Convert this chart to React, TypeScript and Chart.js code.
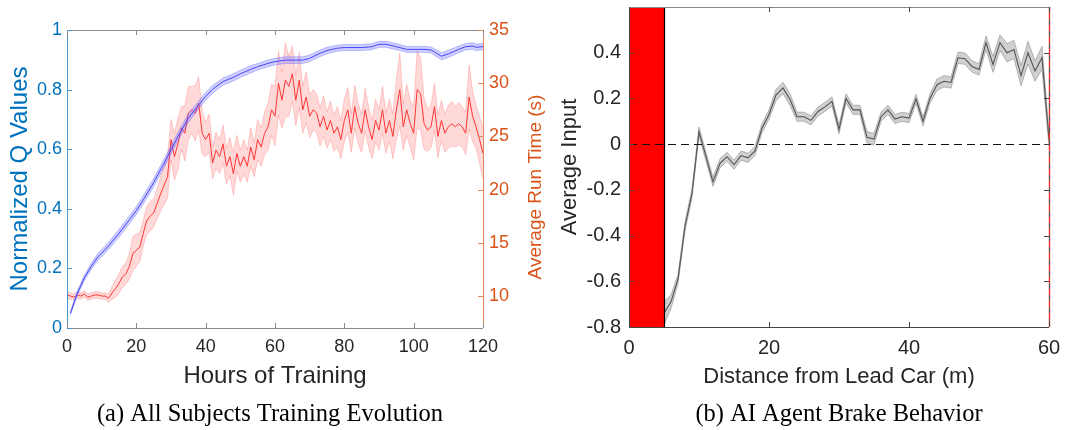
import React, { useEffect, useRef } from "react";
import { Chart, registerables } from "chart.js";

Chart.register(...registerables);
Chart.defaults.font.family = '"Liberation Sans", Arial, sans-serif';

// ---------------- Data: (a) training evolution ----------------
const hourTicks = [0, 20, 40, 60, 80, 100, 120];
const qTicks = [0, 0.2, 0.4, 0.6, 0.8, 1];
const runTimeTicks = [10, 15, 20, 25, 30, 35];

const qHours = [1, 3, 5, 7, 9, 10, 12, 15, 18, 20, 22, 25, 28, 30, 32, 35, 38, 40, 42, 45, 48, 50, 53, 55, 58, 60, 63, 65, 68, 70, 73, 75, 78, 80, 85, 88, 90, 92, 95, 98, 100, 103, 105, 108, 110, 113, 115, 117, 118, 120];
const qMean = [0.05, 0.117, 0.168, 0.207, 0.24, 0.251, 0.276, 0.318, 0.363, 0.394, 0.43, 0.488, 0.553, 0.598, 0.642, 0.704, 0.749, 0.777, 0.801, 0.827, 0.841, 0.853, 0.868, 0.877, 0.888, 0.894, 0.899, 0.899, 0.899, 0.905, 0.922, 0.931, 0.939, 0.941, 0.941, 0.944, 0.952, 0.952, 0.944, 0.935, 0.935, 0.935, 0.933, 0.912, 0.92, 0.935, 0.944, 0.946, 0.942, 0.944];
const qErr = [0.006, 0.008, 0.009, 0.01, 0.012, 0.012, 0.012, 0.013, 0.013, 0.013, 0.014, 0.014, 0.014, 0.014, 0.014, 0.014, 0.013, 0.013, 0.013, 0.012, 0.012, 0.012, 0.012, 0.011, 0.011, 0.011, 0.011, 0.011, 0.011, 0.011, 0.011, 0.011, 0.01, 0.01, 0.01, 0.01, 0.01, 0.01, 0.01, 0.01, 0.01, 0.01, 0.01, 0.012, 0.012, 0.011, 0.011, 0.011, 0.011, 0.011];

const runHours = Array.from({ length: 121 }, (_, i) => i);
const runTime = [
  10.1, 10.0, 9.9, 10.1, 10.0, 10.2, 9.9, 10.0, 10.1, 10.1,
  10.0, 10.0, 9.8, 10.3, 10.7, 11.2, 11.8, 12.1, 12.8, 14.0,
  14.3, 14.6, 15.9, 17.1, 17.5, 17.8, 18.7, 19.6, 20.4, 21.2,
  24.7, 23.1, 24.3, 25.8, 25.3, 27.2, 27.5, 27.2, 28.1, 25.3,
  24.7, 25.3, 22.5, 23.7, 23.1, 24.3, 22.2, 23.1, 21.5, 23.4,
  22.2, 23.1, 22.2, 24.0, 22.8, 24.7, 24.0, 25.3, 25.9, 27.5,
  26.9, 30.0, 28.4, 30.3, 29.7, 30.9, 28.4, 30.3, 27.5, 28.7,
  26.9, 27.5, 27.2, 25.9, 26.9, 25.6, 26.5, 25.3, 25.9, 24.7,
  26.5, 27.5, 25.3, 27.8, 26.2, 25.3, 27.5, 25.9, 24.7, 26.5,
  25.6, 27.5, 25.3, 26.5, 25.0, 27.5, 29.4, 25.9, 27.5, 26.2,
  25.3, 29.4, 29.0, 26.2, 25.6, 25.9, 27.8, 25.0, 26.5, 25.3,
  25.9, 26.2, 25.9, 26.2, 25.9, 25.3, 28.7, 26.9, 25.9, 24.7,
  23.4,
];
const runTimeErr = [
  0.3, 0.3, 0.3, 0.3, 0.3, 0.3, 0.3, 0.3, 0.3, 0.3, 0.3, 0.3,
  0.4, 0.6, 0.8, 0.9, 1.0, 1.0, 1.2, 1.6, 1.5,
  1.4, 1.2, 1.3, 1.4, 1.3, 1.4, 1.6, 1.8, 2.0, 1.9,
  2.2, 2.4, 2.0, 2.6, 2.5, 2.2, 2.6, 2.5, 2.0, 1.6,
  1.8, 1.5, 1.7, 1.6, 1.8, 1.7, 1.8, 2.0, 1.7, 1.5,
  1.6, 1.5, 1.8, 1.6, 1.9, 1.8, 2.0, 2.2, 2.4, 2.8,
  3.0, 2.6, 3.5, 2.8, 2.6, 2.4, 2.6, 2.2, 2.4, 2.0,
  1.9, 1.8, 1.8, 1.9, 1.7, 1.8, 1.7, 1.9, 1.8, 2.0,
  2.1, 1.8, 2.0, 1.9, 1.8, 2.0, 1.9, 1.8, 2.0, 1.9,
  2.2, 1.9, 2.0, 2.1, 2.8, 3.4, 2.2, 2.4, 2.2, 2.5,
  3.6, 3.4, 2.4, 2.0, 2.0, 2.2, 2.0, 1.9, 1.8, 2.0,
  2.1, 1.9, 2.0, 1.9, 2.0, 3.0, 2.4, 2.0, 2.2, 2.4,
];

// ---------------- Data: (b) brake behaviour ----------------
const distTicks = [0, 20, 40, 60];
const inputTicks = [-0.8, -0.6, -0.4, -0.2, 0, 0.2, 0.4];
const distance = [5, 6, 7, 8, 9, 10, 11, 12, 13, 14, 15, 16, 17, 18, 19, 20, 21, 22, 23, 24, 25, 26, 27, 28, 29, 30, 31, 32, 33, 34, 35, 36, 37, 38, 39, 40, 41, 42, 43, 44, 45, 46, 47, 48, 49, 50, 51, 52, 53, 54, 55, 56, 57, 58, 59, 60];
const brakeMean = [-0.74, -0.69, -0.59, -0.36, -0.215, 0.055, -0.055, -0.165, -0.084, -0.055, -0.09, -0.05, -0.06, -0.03, 0.07, 0.13, 0.215, 0.246, 0.195, 0.12, 0.12, 0.104, 0.143, 0.163, 0.187, 0.065, 0.2, 0.15, 0.15, 0.03, 0.022, 0.12, 0.15, 0.11, 0.12, 0.114, 0.198, 0.1, 0.2, 0.26, 0.275, 0.27, 0.378, 0.374, 0.34, 0.327, 0.444, 0.349, 0.444, 0.4, 0.414, 0.3, 0.4, 0.32, 0.378, 0.02];
const brakeErr = [0.05, 0.03, 0.02, 0.02, 0.02, 0.02, 0.02, 0.02, 0.02, 0.02, 0.02, 0.02, 0.02, 0.02, 0.02, 0.02, 0.025, 0.025, 0.025, 0.02, 0.02, 0.02, 0.02, 0.02, 0.02, 0.02, 0.02, 0.02, 0.02, 0.025, 0.025, 0.02, 0.02, 0.02, 0.02, 0.02, 0.02, 0.02, 0.02, 0.025, 0.025, 0.025, 0.025, 0.025, 0.025, 0.025, 0.03, 0.035, 0.035, 0.04, 0.04, 0.045, 0.05, 0.045, 0.05, 0.03];
const dangerZone = [0, 5];
const referenceInput = 0;

// ---------------- Styling ----------------
const H = 430;
const LEFT_W = 565;
const LEFT_PLOT_RIGHT = 483;
const RIGHT_X = 540;
const RIGHT_W = 525;
const TL = 5;
const SANS = '"Liberation Sans", Arial, sans-serif';
const SERIF = '"Liberation Serif", "Times New Roman", serif';
const MBLUE = "#0072BD";
const MORANGE = "#D95319";
const AXIS = "#262626";
const FRAME = "#8a8a8a";

const pts = (xs: number[], ys: number[]) => xs.map((x, i) => ({ x, y: ys[i] }));
const noPad = (s: any) => { s.paddingTop = 0; s.paddingBottom = 0; s.paddingLeft = 0; s.paddingRight = 0; };

function hline(ctx: CanvasRenderingContext2D, x1: number, y: number, x2: number, color: string, w = 1) {
  const yy = Math.round(y) + 0.5;
  ctx.strokeStyle = color;
  ctx.lineWidth = w;
  ctx.beginPath();
  ctx.moveTo(x1, yy);
  ctx.lineTo(x2, yy);
  ctx.stroke();
}
function vline(ctx: CanvasRenderingContext2D, x: number, y1: number, y2: number, color: string, w = 1) {
  const xx = Math.round(x) + 0.5;
  ctx.strokeStyle = color;
  ctx.lineWidth = w;
  ctx.beginPath();
  ctx.moveTo(xx, y1);
  ctx.lineTo(xx, y2);
  ctx.stroke();
}
function vtext(ctx: CanvasRenderingContext2D, text: string, baseX: number, cy: number, font: string, color: string) {
  ctx.save();
  ctx.translate(baseX, cy);
  ctx.rotate(-Math.PI / 2);
  ctx.font = font;
  ctx.fillStyle = color;
  ctx.textAlign = "center";
  ctx.textBaseline = "alphabetic";
  ctx.fillText(text, 0, 0);
  ctx.restore();
}
function htext(ctx: CanvasRenderingContext2D, text: string, cx: number, baseY: number, font: string, color: string) {
  ctx.save();
  ctx.font = font;
  ctx.fillStyle = color;
  ctx.textAlign = "center";
  ctx.textBaseline = "alphabetic";
  ctx.fillText(text, cx, baseY);
  ctx.restore();
}

const leftDeco = {
  id: "leftDeco",
  afterDraw(chart: any) {
    const { ctx, chartArea: a, scales } = chart;
    const x = scales.x, yq = scales.yQ, yr = scales.yR;
    ctx.save();
    hline(ctx, a.left, a.top, a.right, FRAME);
    hline(ctx, a.left, a.bottom, a.right, FRAME);
    vline(ctx, a.left, a.top, a.bottom, "#4a97d0");
    vline(ctx, a.right, a.top, a.bottom, "#e58a62");
    for (const v of hourTicks) {
      const px = x.getPixelForValue(v);
      vline(ctx, px, a.bottom - TL, a.bottom, FRAME);
      vline(ctx, px, a.top, a.top + TL, FRAME);
    }
    for (const v of qTicks) {
      const py = yq.getPixelForValue(v);
      hline(ctx, a.left, py, a.left + TL, "#4a97d0");
    }
    for (const v of runTimeTicks) {
      const py = yr.getPixelForValue(v);
      hline(ctx, a.right - TL, py, a.right, "#e58a62");
    }
    vtext(ctx, "Normalized Q Values", 27, (a.top + a.bottom) / 2, `24px ${SANS}`, MBLUE);
    vtext(ctx, "Average Run Time (s)", 541, 187, `19px ${SANS}`, MORANGE);
    htext(ctx, "Hours of Training", (a.left + a.right) / 2, 383, `24px ${SANS}`, AXIS);
    htext(ctx, "(a) All Subjects Training Evolution", 270, 421, `24.5px ${SERIF}`, "#000");
    ctx.restore();
  },
};

const rightDeco = {
  id: "rightDeco",
  beforeDatasetsDraw(chart: any) {
    const { ctx, chartArea: a, scales } = chart;
    const x = scales.x;
    const x0 = x.getPixelForValue(dangerZone[0]);
    const x1 = x.getPixelForValue(dangerZone[1]);
    ctx.save();
    ctx.fillStyle = "#ff0000";
    ctx.fillRect(x0, a.top, x1 - x0, a.bottom - a.top);
    ctx.restore();
  },
  afterDatasetsDraw(chart: any) {
    const { ctx, chartArea: a, scales } = chart;
    const x = scales.x, y = scales.y;
    ctx.save();
    const py = Math.round(y.getPixelForValue(referenceInput)) + 0.5;
    ctx.setLineDash([8, 5]);
    ctx.strokeStyle = "#111";
    ctx.lineWidth = 1;
    ctx.beginPath();
    ctx.moveTo(x.getPixelForValue(0), py);
    ctx.lineTo(x.getPixelForValue(60), py);
    ctx.stroke();
    ctx.setLineDash([]);
    vline(ctx, x.getPixelForValue(dangerZone[1]), a.top, a.bottom, "#000", 1.2);
    ctx.restore();
  },
  afterDraw(chart: any) {
    const { ctx, chartArea: a, scales } = chart;
    const x = scales.x, y = scales.y;
    ctx.save();
    hline(ctx, a.left, a.top, a.right, FRAME);
    hline(ctx, a.left, a.bottom, a.right, "#444");
    vline(ctx, a.left, a.top, a.bottom, "#444");
    vline(ctx, a.right, a.top, a.bottom, "#ff2a2a", 1.4);
    ctx.setLineDash([6, 6]);
    vline(ctx, a.right, a.top, a.bottom, "#555", 1);
    ctx.setLineDash([]);
    for (const v of distTicks) {
      const px = x.getPixelForValue(v);
      vline(ctx, px, a.bottom - TL, a.bottom, "#444");
      vline(ctx, px, a.top, a.top + TL, "#444");
    }
    for (const v of inputTicks) {
      const p = y.getPixelForValue(v);
      hline(ctx, a.left, p, a.left + TL, "#444");
      hline(ctx, a.right - TL, p, a.right, "#444");
    }
    vtext(ctx, "Average Input", 576 - RIGHT_X, (a.top + a.bottom) / 2, `22px ${SANS}`, AXIS);
    htext(ctx, "Distance from Lead Car (m)", (a.left + a.right) / 2, 383, `22px ${SANS}`, AXIS);
    htext(ctx, "(b) AI Agent Brake Behavior", 839 - RIGHT_X, 421, `24.5px ${SERIF}`, "#000");
    ctx.restore();
  },
};

function LeftChart() {
  const ref = useRef<HTMLCanvasElement>(null);
  useEffect(() => {
    const qLo = qMean.map((v, i) => v - qErr[i]);
    const qHi = qMean.map((v, i) => v + qErr[i]);
    const rLo = runTime.map((v, i) => v - runTimeErr[i]);
    const rHi = runTime.map((v, i) => v + runTimeErr[i]);
    const base = { pointRadius: 0, tension: 0 };
    const chart = new Chart(ref.current!, {
      type: "line",
      data: {
        datasets: [
          { ...base, data: pts(qHours, qLo), yAxisID: "yQ", borderColor: "rgba(90,90,255,0.45)", borderWidth: 0.8, fill: false },
          { ...base, data: pts(qHours, qHi), yAxisID: "yQ", borderColor: "rgba(90,90,255,0.45)", borderWidth: 0.8, backgroundColor: "rgba(100,100,255,0.3)", fill: "-1" },
          { ...base, data: pts(qHours, qMean), yAxisID: "yQ", borderColor: "#3535f5", borderWidth: 1, fill: false },
          { ...base, data: pts(runHours, rLo), yAxisID: "yR", borderColor: "rgba(255,90,90,0.35)", borderWidth: 0.8, fill: false },
          { ...base, data: pts(runHours, rHi), yAxisID: "yR", borderColor: "rgba(255,90,90,0.35)", borderWidth: 0.8, backgroundColor: "rgba(255,90,90,0.24)", fill: "-1" },
          { ...base, data: pts(runHours, runTime), yAxisID: "yR", borderColor: "#ff2a2a", borderWidth: 1, fill: false },
        ] as any,
      },
      options: {
        animation: false,
        responsive: false,
        devicePixelRatio: 1,
        layout: { padding: { top: 30, left: 0, right: 0, bottom: 0 } },
        plugins: { legend: { display: false }, tooltip: { enabled: false } },
        scales: {
          x: {
            type: "linear", min: 0, max: 120,
            grid: { display: false, drawTicks: false, tickLength: 0 }, border: { display: false },
            ticks: { font: { size: 18 }, color: AXIS, padding: 8, maxRotation: 0, autoSkip: false, callback: (v: any) => String(v) },
            afterBuildTicks: (s: any) => { s.ticks = hourTicks.map((v) => ({ value: v })); },
            afterFit: (s: any) => { s.height = H - 328; noPad(s); },
          },
          yQ: {
            type: "linear", position: "left", min: 0, max: 1,
            grid: { display: false, drawTicks: false, tickLength: 0 }, border: { display: false },
            ticks: { font: { size: 18 }, color: MBLUE, padding: 5, autoSkip: false, callback: (v: any) => String(v) },
            afterBuildTicks: (s: any) => { s.ticks = qTicks.map((v) => ({ value: v })); },
            afterFit: (s: any) => { s.width = 67; noPad(s); },
          },
          yR: {
            type: "linear", position: "right", min: 7, max: 35,
            grid: { display: false, drawTicks: false, tickLength: 0 }, border: { display: false },
            ticks: { font: { size: 18 }, color: MORANGE, padding: 6, autoSkip: false, callback: (v: any) => String(v) },
            afterBuildTicks: (s: any) => { s.ticks = runTimeTicks.map((v) => ({ value: v })); },
            afterFit: (s: any) => { s.width = LEFT_W - LEFT_PLOT_RIGHT; noPad(s); },
          },
        },
      } as any,
      plugins: [leftDeco],
    });
    return () => chart.destroy();
  }, []);
  return <canvas ref={ref} width={LEFT_W} height={H} style={{ position: "absolute", left: 0, top: 0, display: "block" }} />;
}

function RightChart() {
  const ref = useRef<HTMLCanvasElement>(null);
  useEffect(() => {
    const lo = brakeMean.map((v, i) => v - brakeErr[i]);
    const hi = brakeMean.map((v, i) => v + brakeErr[i]);
    const base = { pointRadius: 0, tension: 0 };
    const chart = new Chart(ref.current!, {
      type: "line",
      data: {
        datasets: [
          { ...base, data: pts(distance, lo), borderColor: "rgba(110,110,110,0.55)", borderWidth: 0.8, fill: false },
          { ...base, data: pts(distance, hi), borderColor: "rgba(110,110,110,0.55)", borderWidth: 0.8, backgroundColor: "rgba(150,150,150,0.45)", fill: "-1" },
          { ...base, data: pts(distance, brakeMean), borderColor: "#1a1a1a", borderWidth: 1.1, fill: false },
        ] as any,
      },
      options: {
        animation: false,
        responsive: false,
        devicePixelRatio: 1,
        layout: { padding: { top: 7, left: 0, right: 1065 - 1049, bottom: 0 } },
        plugins: { legend: { display: false }, tooltip: { enabled: false } },
        scales: {
          x: {
            type: "linear", min: 0, max: 60,
            grid: { display: false, drawTicks: false, tickLength: 0 }, border: { display: false },
            ticks: { font: { size: 20 }, color: AXIS, padding: 9, maxRotation: 0, autoSkip: false, callback: (v: any) => String(v) },
            afterBuildTicks: (s: any) => { s.ticks = distTicks.map((v) => ({ value: v })); },
            afterFit: (s: any) => { s.height = H - 327; noPad(s); },
          },
          y: {
            type: "linear", position: "left", min: -0.8, max: 0.6,
            grid: { display: false, drawTicks: false, tickLength: 0 }, border: { display: false },
            ticks: { font: { size: 20 }, color: AXIS, padding: 8, autoSkip: false, callback: (v: any) => String(v) },
            afterBuildTicks: (s: any) => { s.ticks = inputTicks.map((v) => ({ value: v })); },
            afterFit: (s: any) => { s.width = 629 - RIGHT_X; noPad(s); },
          },
        },
      } as any,
      plugins: [rightDeco],
    });
    return () => chart.destroy();
  }, []);
  return <canvas ref={ref} width={RIGHT_W} height={H} style={{ position: "absolute", left: RIGHT_X, top: 0, display: "block" }} />;
}

export default function App() {
  return (
    <div style={{ position: "absolute", left: 0, top: 0, width: 1065, height: H, background: "#fff", overflow: "hidden" }}>
      <LeftChart />
      <RightChart />
    </div>
  );
}
